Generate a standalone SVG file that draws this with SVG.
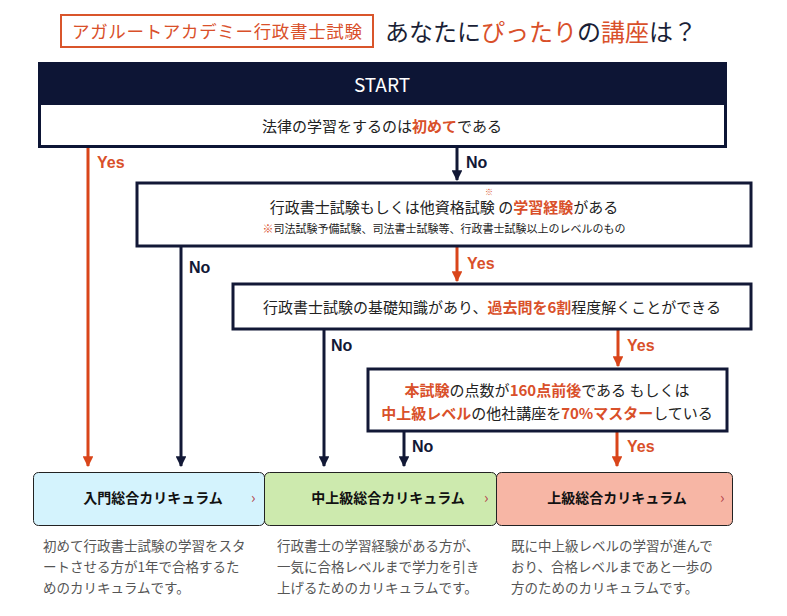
<svg xmlns="http://www.w3.org/2000/svg" width="787" height="616" viewBox="0 0 787 616">
<style>
text{font-family:"Noto Sans CJK JP","Noto Sans",sans-serif;}
.o{fill:#d9502a;font-weight:bold}
.n{fill:#1a1f36}
.q{fill:#222;font-size:15px}
.yes{fill:#d9502a;font-weight:bold;font-size:16px;font-family:"Liberation Sans",sans-serif}
.no{fill:#121836;font-weight:bold;font-size:16px;font-family:"Liberation Sans",sans-serif}
.box{fill:#fff;stroke:#121836;stroke-width:3}
.ln{stroke:#121836;stroke-width:3;fill:none}
.lo{stroke:#d9451a;stroke-width:3;fill:none}
.card{stroke:#222;stroke-width:1}
.ct{font-size:14px;font-weight:bold;fill:#111;text-anchor:middle}
.chev{font-size:15px;fill:#b3444c}
.desc{font-size:13.5px;fill:#555}
</style>
<defs>
<marker id="an" viewBox="0 0 10 10" refX="9" refY="5" markerWidth="3.6" markerHeight="3.6" orient="auto"><path d="M0,0L10,5L0,10z" fill="#121836"/></marker>
<marker id="ao" viewBox="0 0 10 10" refX="9" refY="5" markerWidth="3.6" markerHeight="3.6" orient="auto"><path d="M0,0L10,5L0,10z" fill="#d9451a"/></marker>
</defs>
<g id="title">
<rect x="61" y="15" width="312" height="32" fill="#fff" stroke="#d9552b" stroke-width="2"/>
<text x="217" y="38" text-anchor="middle" font-size="17.5" fill="#d9502a" textLength="290">アガルートアカデミー行政書士試験</text>
<text x="385" y="41" font-size="24" class="n">あなたに<tspan fill="#d9502a">ぴったり</tspan>の<tspan fill="#d9502a">講座</tspan>は？</text>
</g>
<g id="connectors">
<path class="lo" d="M88,147V466" marker-end="url(#ao)"/>
<path class="ln" d="M457,147V180" marker-end="url(#an)"/>
<path class="ln" d="M181,247V466" marker-end="url(#an)"/>
<path class="lo" d="M457,247V281" marker-end="url(#ao)"/>
<path class="ln" d="M324,330V466" marker-end="url(#an)"/>
<path class="lo" d="M618,330V366" marker-end="url(#ao)"/>
<path class="ln" d="M404,432V466" marker-end="url(#an)"/>
<path class="lo" d="M617,432V466" marker-end="url(#ao)"/>
<text class="yes" x="97" y="168">Yes</text>
<text class="no" x="466" y="168">No</text>
<text class="no" x="189" y="273">No</text>
<text class="yes" x="467" y="269">Yes</text>
<text class="no" x="331" y="351">No</text>
<text class="yes" x="627" y="351">Yes</text>
<text class="no" x="412" y="452">No</text>
<text class="yes" x="627" y="452">Yes</text>
</g>
<g id="start">
<rect x="38" y="62" width="689" height="86" fill="#0d1535"/>
<rect x="41" y="105" width="683" height="40" fill="#fff"/>
<text x="382" y="92" text-anchor="middle" font-size="19" fill="#fff" font-family="Roboto,sans-serif">START</text>
<text x="382" y="132" text-anchor="middle" class="q">法律の学習をするのは<tspan class="o">初めて</tspan>である</text>
</g>
<g id="q2">
<rect class="box" x="137" y="183" width="614" height="63"/>
<text x="444" y="213" text-anchor="middle" class="q">行政書士試験もしくは他資格試験 の<tspan class="o">学習経験</tspan>がある</text>
<text x="485" y="195" font-size="8" fill="#d9502a">※</text>
<text x="444" y="233" text-anchor="middle" font-size="11" fill="#222"><tspan fill="#d9502a">※</tspan>司法試験予備試験、司法書士試験等、行政書士試験以上のレベルのもの</text>
</g>
<g id="q3">
<rect class="box" x="233" y="284" width="518" height="45"/>
<text x="492" y="313" text-anchor="middle" class="q">行政書士試験の基礎知識があり、<tspan class="o">過去問を6割</tspan>程度解くことができる</text>
</g>
<g id="q4">
<rect class="box" x="368" y="369" width="359" height="62"/>
<text x="547" y="396" text-anchor="middle" class="q"><tspan class="o">本試験</tspan>の点数が<tspan class="o">160点前後</tspan>である もしくは</text>
<text x="547" y="419" text-anchor="middle" class="q"><tspan class="o">中上級レベル</tspan>の他社講座を<tspan class="o">70%マスター</tspan>している</text>
</g>
<g id="c1">
<rect class="card" x="33.5" y="472.5" width="231" height="53" rx="5" fill="#d4f3fd"/>
<text class="ct" x="153" y="503">入門総合カリキュラム</text>
<text class="chev" x="251" y="503">›</text>
<text class="desc" x="43" y="551">初めて行政書士試験の学習をスタ</text>
<text class="desc" x="43" y="572">ートさせる方が1年で合格するた</text>
<text class="desc" x="43" y="593">めのカリキュラムです。</text>
</g>
<g id="c2">
<rect class="card" x="264.5" y="472.5" width="232" height="53" rx="5" fill="#cdeaae"/>
<text class="ct" x="388" y="503">中上級総合カリキュラム</text>
<text class="chev" x="484" y="503">›</text>
<text class="desc" x="277" y="551">行政書士の学習経験がある方が、</text>
<text class="desc" x="277" y="572">一気に合格レベルまで学力を引き</text>
<text class="desc" x="277" y="593">上げるためのカリキュラムです。</text>
</g>
<g id="c3">
<rect class="card" x="496.5" y="472.5" width="236" height="53" rx="5" fill="#f7b6a5"/>
<text class="ct" x="617" y="503">上級総合カリキュラム</text>
<text class="chev" x="720" y="503">›</text>
<text class="desc" x="511" y="551">既に中上級レベルの学習が進んで</text>
<text class="desc" x="511" y="572">おり、合格レベルまであと一歩の</text>
<text class="desc" x="511" y="593">方のためのカリキュラムです。</text>
</g>
</svg>
